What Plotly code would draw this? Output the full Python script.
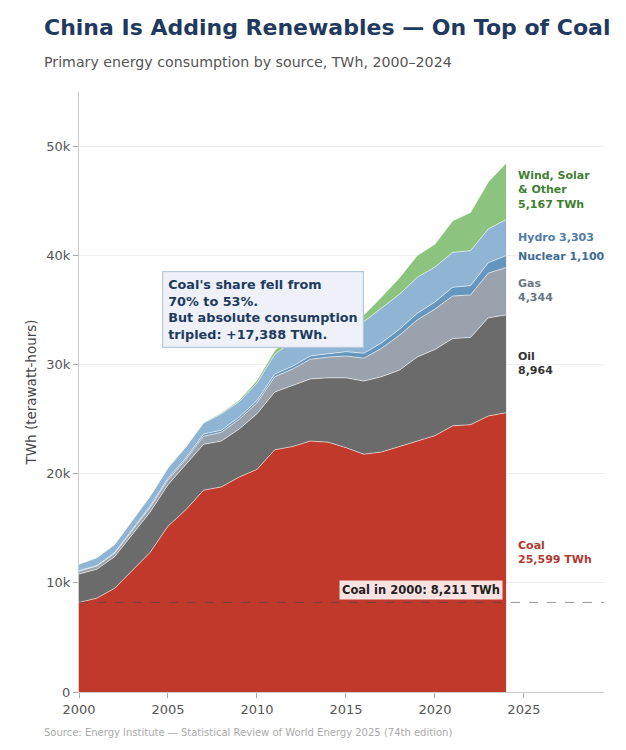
import plotly.graph_objects as go

# Primary energy consumption in China by source, TWh
years = list(range(2000, 2025))
coal = [8211, 8600, 9500, 11200, 12800, 15200, 16700, 18500, 18800, 19700,
        20400, 22200, 22500, 23000, 22900, 22400, 21800, 22000, 22500, 23000,
        23500, 24400, 24500, 25300, 25599]
oil = [2600, 2650, 2900, 3300, 3700, 3800, 4100, 4200, 4200, 4400,
       5100, 5300, 5600, 5700, 5900, 6400, 6700, 6900, 7000, 7700,
       7900, 8000, 8000, 9000, 8964]
gas = [260, 290, 300, 350, 420, 450, 500, 750, 800, 900,
       1000, 1400, 1500, 1800, 1900, 2000, 2100, 2600, 3200, 3400,
       3700, 3900, 3900, 4100, 4344]
nuclear = [50, 50, 70, 110, 130, 140, 150, 200, 200, 200,
           220, 250, 270, 300, 330, 400, 450, 500, 550, 600,
           650, 800, 850, 950, 1100]
hydro = [600, 720, 750, 780, 900, 950, 1000, 1000, 1500, 1400,
         1600, 1800, 2300, 2400, 2500, 2700, 2900, 3200, 3200, 3300,
         3200, 3200, 3200, 3100, 3303]
wind_solar = [10, 10, 10, 15, 20, 25, 30, 50, 100, 150,
              250, 350, 450, 550, 550, 600, 600, 1000, 1500, 2000,
              2100, 2900, 3500, 4300, 5167]

series = [
    ("Coal", coal, "#c0392b"),
    ("Oil", oil, "#6b6b6b"),
    ("Gas", gas, "#9aa3ad"),
    ("Nuclear", nuclear, "#6596bd"),
    ("Hydro", hydro, "#8fb4d4"),
    ("Wind, Solar & Other", wind_solar, "#8cc47f"),
]

FONT = "DejaVu Sans"
NAVY = "#1f3a5f"

fig = go.Figure()
for name, vals, col in series:
    fig.add_trace(go.Scatter(x=years, y=vals, name=name, stackgroup="one",
                             mode="lines", line=dict(color="rgba(255,255,255,0.7)", width=0.8),
                             fillcolor=col, hoverinfo="x+y+name"))

# reference line: coal level in 2000
fig.add_hline(y=coal[0], line=dict(color="rgba(70,70,70,0.55)", width=1, dash="dash"))
fig.add_annotation(x=2023.8, y=coal[0], xanchor="right", yanchor="bottom", yshift=2,
                   text="<b>Coal in 2000: 8,211 TWh</b>", showarrow=False,
                   font=dict(family=FONT, size=11.5, color="#222"),
                   bgcolor="rgba(255,245,245,0.9)", borderpad=2)

# right-hand end labels
right_labels = [
    ("Wind, Solar<br>&amp; Other<br>5,167 TWh", 45980, "#3f7f32"),
    ("Hydro 3,303", 41640, "#4f7ca8"),
    ("Nuclear 1,100", 39920, "#3f6d96"),
    ("Gas<br>4,344", 36810, "#6b7785"),
    ("Oil<br>8,964", 30150, "#333333"),
    ("Coal<br>25,599 TWh", 12820, "#b03a2e"),
]
for txt, yv, col in right_labels:
    fig.add_annotation(x=2024.55, y=yv, xanchor="left", yanchor="middle", align="left",
                       text="<b>" + txt + "</b>", showarrow=False,
                       font=dict(family=FONT, size=11, color=col))

# callout box
fig.add_annotation(x=2004.66, y=35100, xanchor="left", yanchor="middle", align="left",
                   text="<b>Coal's share fell from<br>70% to 53%.<br>But absolute consumption<br>tripled: +17,388 TWh.</b>",
                   showarrow=False, font=dict(family=FONT, size=12.8, color=NAVY),
                   bgcolor="#eef2f8", bordercolor="#b8c8dc", borderwidth=1.2, borderpad=5)

# title, subtitle, source
fig.add_annotation(xref="paper", yref="paper", x=-0.0705, y=1.1067, xanchor="left", yanchor="middle",
                   text="<b>China Is Adding Renewables — On Top of Coal</b>", showarrow=False,
                   font=dict(family=FONT, size=22, color=NAVY))
fig.add_annotation(xref="paper", yref="paper", x=-0.0705, y=1.05, xanchor="left", yanchor="middle",
                   text="Primary energy consumption by source, TWh, 2000–2024", showarrow=False,
                   font=dict(family=FONT, size=14.2, color="#555"))
fig.add_annotation(xref="paper", yref="paper", x=-0.0705, y=-0.0667, xanchor="left", yanchor="middle",
                   text="Source: Energy Institute — Statistical Review of World Energy 2025 (74th edition)",
                   showarrow=False, font=dict(family=FONT, size=10, color="#aaa"))

fig.update_xaxes(range=[2000, 2029.5], tickvals=[2000, 2005, 2010, 2015, 2020, 2025],
                 ticks="outside", ticklen=5, tickcolor="#aaa", showline=True, linecolor="#ccc",
                 showgrid=False, zeroline=False, automargin=False,
                 tickfont=dict(family=FONT, size=13, color="#555"))
fig.update_yaxes(range=[0, 55000], tickvals=[0, 10000, 20000, 30000, 40000, 50000],
                 ticktext=["0", "10k", "20k", "30k", "40k", "50k"],
                 ticks="outside", ticklen=5, tickcolor="#aaa", showline=True, linecolor="#ccc",
                 showgrid=True, gridcolor="#eeeeee", zeroline=False, automargin=False,
                 title=dict(text="TWh (terawatt-hours)", font=dict(family=FONT, size=13.5, color="#444"), standoff=6),
                 tickfont=dict(family=FONT, size=13, color="#555"))

# margins offset by the page's 8px body margin
fig.update_layout(width=626, height=750, showlegend=False,
                  margin=dict(l=71, r=30, t=84, b=66),
                  paper_bgcolor="white", plot_bgcolor="white",
                  font=dict(family=FONT))

fig.write_html("out.html")
